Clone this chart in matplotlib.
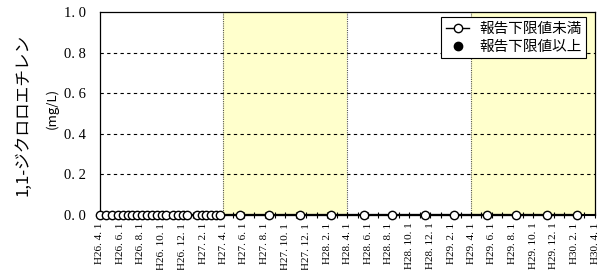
import matplotlib
matplotlib.use("Agg")
import matplotlib.pyplot as plt
import matplotlib.dates as mdates
from matplotlib.lines import Line2D
import datetime as dt

# ---- data ----
below_dates = [
    "2014-04-02", "2014-04-21", "2014-05-09", "2014-05-26", "2014-06-09", "2014-06-23",
    "2014-07-07", "2014-07-22", "2014-08-05", "2014-08-19", "2014-09-02", "2014-09-17",
    "2014-10-01", "2014-10-15", "2014-11-04", "2014-11-18", "2014-12-02", "2014-12-16",
    "2015-01-13", "2015-01-27", "2015-02-10", "2015-02-24", "2015-03-10", "2015-03-22",
    "2015-05-20", "2015-08-14", "2015-11-12", "2016-02-12",
    "2016-05-19", "2016-08-11", "2016-11-17", "2017-02-10",
    "2017-05-17", "2017-08-10", "2017-11-09", "2018-02-08",
]
below_values = [0.0] * len(below_dates)
above_dates = []
above_values = []

series_labels = ["報告下限値未満", "報告下限値以上"]
ylabel_main = "1,1-ジクロロエチレン"
ylabel_unit = "(mg/L)"
shaded_periods = [("2015-04-01", "2016-04-01"), ("2017-04-01", "2018-04-01")]
fy_lines = ["2015-04-01", "2016-04-01", "2017-04-01"]
y_ticks = [0.0, 0.2, 0.4, 0.6, 0.8, 1.0]

def d(s):
    return dt.datetime.strptime(s, "%Y-%m-%d")

jp = ["Noto Sans CJK JP", "DejaVu Sans"]
serif = ["Liberation Serif", "DejaVu Serif"]

fig = plt.figure(figsize=(6.04, 2.70), dpi=100)
ax = fig.add_axes([99.5 / 604, 1 - 215 / 270, (595 - 99.5) / 604, (215 - 12) / 270])

for a, b in shaded_periods:
    ax.axvspan(d(a), d(b), color="#FFFFCC", zorder=0, lw=0)
for s in fy_lines:
    ax.axvline(d(s), color="#555555", lw=0.8, ls=(0, (1, 1)), zorder=1)
for yv in y_ticks[1:-1]:
    ax.axhline(yv, color="black", lw=0.8, ls=(0, (3, 3)), zorder=1)

ax.plot([d(s) for s in below_dates], below_values, color="black", lw=1.6,
        marker="o", ms=6, mfc="white", mec="black", mew=1.0, zorder=3, clip_on=False)
if above_dates:
    ax.plot([d(s) for s in above_dates], above_values, ls="none", marker="o", ms=6,
            color="black", zorder=3, clip_on=False)

ax.set_xlim(d("2014-04-01"), d("2018-04-01"))
ax.set_ylim(0, 1.0)

major = []
y, m = 2014, 4
while (y, m) <= (2018, 4):
    major.append(dt.datetime(y, m, 1))
    m += 2
    if m > 12:
        m -= 12
        y += 1
minor = []
y, m = 2014, 4
while (y, m) <= (2018, 4):
    minor.append(dt.datetime(y, m, 1))
    m += 1
    if m > 12:
        m = 1
        y += 1
ax.set_xticks(major)
ax.set_xticks(minor, minor=True)
ax.set_xticklabels([f"H{t.year - 1988}. {t.month}. 1" for t in major],
                   rotation=90, fontsize=8, family=serif)
ax.tick_params(axis="x", which="both", direction="inout", length=5, width=0.8, pad=3)
ax.set_yticks(y_ticks)
ax.set_yticklabels([f"{v:.1f}".replace(".", ". ") for v in y_ticks], fontsize=10.5, family=serif)
ax.tick_params(axis="y", length=0, pad=10)

for sp in ax.spines.values():
    sp.set_linewidth(0.9)
ax.spines["bottom"].set_linewidth(1.5)

handles = [
    Line2D([], [], color="black", lw=1.0, marker="o", ms=6, mfc="white", mec="black"),
    Line2D([], [], color="black", ls="none", marker="o", ms=6),
]
leg = ax.legend(handles, series_labels, loc="upper right", bbox_to_anchor=(0.988, 0.988),
                prop={"family": jp, "size": 10.5}, frameon=True, fancybox=False,
                edgecolor="black", framealpha=1, handlelength=1.6, handletextpad=0.7,
                borderpad=0.3, labelspacing=0.3, borderaxespad=0.2)
leg.get_frame().set_linewidth(0.8)

fig.text(23 / 604, 1 - 115 / 270, ylabel_main, rotation=90, ha="center", va="center",
         fontsize=12, family=jp)
fig.text(52 / 604, 1 - 108 / 270, ylabel_unit, rotation=90, ha="center", va="center",
         fontsize=9.5, family=jp)

fig.savefig("out.png", dpi=100)
